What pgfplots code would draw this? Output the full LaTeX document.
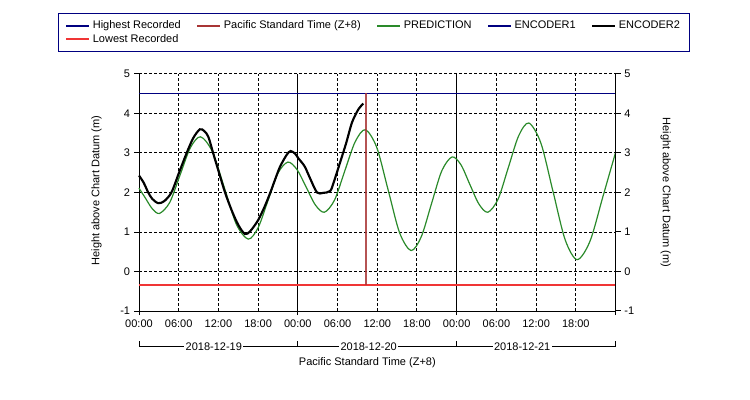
\documentclass[border=0pt]{standalone}
\usepackage{fontspec}
\setmainfont{Liberation Sans}
\usepackage{pgfplots}
\usepackage{pgfplotstable}
\pgfplotsset{compat=1.18}
\definecolor{navyc}{HTML}{000080}
\definecolor{greenc}{HTML}{2A8A2A}
\definecolor{brownc}{HTML}{A83535}
\definecolor{redc}{HTML}{F03535}

\pgfplotstableread{
h y
0 2.11
1.0 1.85
2.0 1.59
3.1 1.47
4.65 1.75
6.2 2.44
7.75 3.13
9.3 3.41
11.1 3.03
12.9 2.12
14.7 1.20
16.5 0.82
18.0 1.11
19.5 1.80
21.0 2.49
22.5 2.77
23.875 2.58
25.25 2.14
26.625 1.69
28.0 1.50
29.55 1.81
31.1 2.55
32.65 3.28
34.2 3.59
35.925 3.14
37.65 2.06
39.375 0.98
41.1 0.53
42.65 0.88
44.2 1.72
45.75 2.55
47.3 2.90
48.65 2.70
50.0 2.20
51.35 1.71
52.7 1.50
54.25 1.83
55.8 2.63
57.35 3.43
58.9 3.76
60.725 3.25
62.55 2.03
64.375 0.81
66.2 0.30
68.15 0.77
70.1 1.90
72 3.01
}\prediction

\pgfplotstableread{
h y
0 2.43
0.7 2.25
1.4 2.00
2.0 1.84
2.9 1.73
3.8 1.78
4.9 2.00
6.0 2.48
7.2 3.00
8.2 3.38
9.2 3.60
9.9 3.55
10.5 3.40
11.2 3.00
12.0 2.55
13.0 2.00
14.0 1.55
15.0 1.18
16.0 0.95
16.8 1.02
18.0 1.30
19.0 1.65
19.8 1.98
20.5 2.30
21.3 2.65
22.3 2.95
22.9 3.05
23.6 2.98
24.1 2.86
24.6 2.76
25.1 2.64
25.9 2.34
26.9 2.00
27.8 1.99
28.9 2.04
29.5 2.30
30.4 2.77
31.3 3.25
32.2 3.78
33.2 4.12
33.9 4.25
}\encodertwo

\pgfplotstableread{
h y
0 4.51
72 4.51
}\highest

\pgfplotstableread{
h y
0 -0.35
72 -0.35
}\lowest

\begin{document}
\fontsize{8.25}{10}\selectfont
\begin{tikzpicture}[x=0.75pt,y=0.75pt]
\path[use as bounding box] (0,0) rectangle (750,400);
\begin{axis}[
  at={(104.25pt,66.75pt)}, anchor=south west,
  width=357.4pt, height=177.75pt, scale only axis,
  xmin=0, xmax=72, ymin=-1, ymax=5,
  clip=false,
  font=\fontsize{8.25}{10}\selectfont,
  axis x line*=bottom, axis y line*=left,
  axis line style={-, line width=0.75pt, black},
  xtick={0,6,...,66},
  xticklabels={00:00,06:00,12:00,18:00,00:00,06:00,12:00,18:00,00:00,06:00,12:00,18:00},
  xtick style={draw=none},
  ytick={-1,0,1,2,3,4,5},
  yticklabels={-1,0,1,2,3,4,5},
  ytick style={black, line width=0.75pt},
  tick align=outside,
  major tick length=3.75pt,
  grid=major,
  major grid style={black, line width=0.75pt, dash pattern=on 2.25pt off 1.5pt},
  extra x ticks={0,24,48,72},
  extra x tick labels={},
  extra x tick style={grid=major, major grid style={solid, black, line width=0.75pt}, xtick style={draw=black, line width=0.75pt}, major tick length=3pt},
  legend columns=5,
  legend cell align=left,
  legend style={at={(rel axis cs:-0.1695,1.2586)}, anchor=north west,
    draw=navyc, line width=0.75pt, font=\fontsize{8.25}{10}\selectfont,
    inner xsep=5pt, inner ysep=4.5pt,
    nodes={inner ysep=1pt, text height=6.2pt, text depth=1.8pt},
    /tikz/every even column/.append style={column sep=9.7pt}},
  legend image post style={line width=1.5pt},
]
\addlegendimage{draw=navyc}
\addlegendentry{Highest Recorded}
\addlegendimage{draw=brownc}
\addlegendentry{Pacific Standard Time (Z+8)}
\addlegendimage{draw=greenc}
\addlegendentry{PREDICTION}
\addlegendimage{draw=navyc}
\addlegendentry{ENCODER1}
\addlegendimage{draw=black}
\addlegendentry{ENCODER2}
\addlegendimage{draw=redc}
\addlegendentry{Lowest Recorded}

\addplot[draw=greenc, line width=0.9pt, smooth, forget plot] table[x=h, y=y] {\prediction};
\addplot[draw=black, line width=1.6pt, smooth, forget plot] table[x=h, y=y] {\encodertwo};
\addplot[draw=navyc, solid, line width=1.2pt, forget plot] table[x=h, y=y] {\highest};
\addplot[draw=redc, solid, line width=1.4pt, forget plot] table[x=h, y=y] {\lowest};
\addplot[draw=brownc, opacity=0.85, line width=1.6pt, forget plot] coordinates {(34.3,-0.35) (34.3,4.51)};

\draw[line width=0.75pt] (axis cs:0,-1.76) -- (axis cs:0,-1.91) -- (axis cs:72,-1.91) -- (axis cs:72,-1.76);
\draw[line width=0.75pt] (axis cs:24,-1.76) -- (axis cs:24,-1.91);
\draw[line width=0.75pt] (axis cs:48,-1.76) -- (axis cs:48,-1.91);
\node[fill=white, inner xsep=1pt, inner ysep=0.5pt] at (axis cs:11.3,-1.91) {2018-12-19};
\node[fill=white, inner xsep=1pt, inner ysep=0.5pt] at (axis cs:34.7,-1.91) {2018-12-20};
\node[fill=white, inner xsep=1pt, inner ysep=0.5pt] at (axis cs:57.9,-1.91) {2018-12-21};
\node at (axis cs:34.5,-2.30) {Pacific Standard Time (Z+8)};
\node[rotate=90] at (axis cs:-6.4,2.05) {Height above Chart Datum (m)};
\node[rotate=-90] at (axis cs:79.6,2.0) {Height above Chart Datum (m)};
\end{axis}
\begin{axis}[
  at={(104.25pt,66.75pt)}, anchor=south west,
  width=357.4pt, height=177.75pt, scale only axis,
  xmin=0, xmax=72, ymin=-1, ymax=5,
  font=\fontsize{8.25}{10}\selectfont,
  axis y line*=right, axis x line=none,
  axis line style={-, line width=0.75pt, black},
  ytick={-1,0,1,2,3,4,5},
  yticklabels={-1,0,1,2,3,4,5},
  ytick style={black, line width=0.75pt},
  tick align=outside,
  major tick length=3.75pt,
]
\addplot[draw=none, forget plot] coordinates {(0,0) (72,0)};
\end{axis}
\end{tikzpicture}
\end{document}
